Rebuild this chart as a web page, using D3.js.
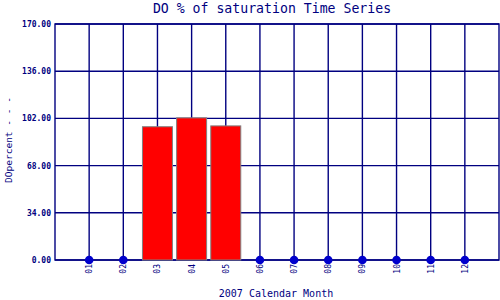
<!DOCTYPE html>
<html>
<head>
<meta charset="utf-8">
<script src="https://cdn.jsdelivr.net/npm/d3@7"></script>
<style>
  body { margin: 0; background: #fff; }
  text { font-family: "DejaVu Sans Mono", monospace; fill: #000080; }
</style>
</head>
<body>
<script>
const navy = '#000080'
const dotBlue = '#0000cc'

const months = ['01', '02', '03', '04', '05', '06', '07', '08', '09', '10', '11', '12']
const values = [null, null, 96.0, 102.4, 96.6, null, null, null, null, null, null, null]
const yTicks = [0, 34, 68, 102, 136, 170]

const width = 500
const height = 300
const plotLeft = 55, plotRight = 499, plotTop = 24, plotBottom = 260

const svg = d3.select('body').append('svg').attr('width', width).attr('height', height)

const x = d3.scaleLinear().domain([0, 13]).range([plotLeft, plotRight])
const y = d3.scaleLinear().domain([0, 170]).range([plotBottom, plotTop])

const grid = svg.append('g').attr('stroke', navy).attr('stroke-width', 1.4)

grid.selectAll('line.h')
    .data(yTicks)
    .enter()
    .append('line')
    .attr('x1', plotLeft).attr('x2', plotRight)
    .attr('y1', d => y(d)).attr('y2', d => y(d))

grid.selectAll('line.v')
    .data(months)
    .enter()
    .append('line')
    .attr('x1', (d, i) => x(i + 1)).attr('x2', (d, i) => x(i + 1))
    .attr('y1', plotTop).attr('y2', plotBottom)

// plot frame
svg.append('rect')
    .attr('x', plotLeft).attr('y', plotTop)
    .attr('width', plotRight - plotLeft).attr('height', plotBottom - plotTop)
    .attr('fill', 'none').attr('stroke', navy).attr('stroke-width', 1.4)

const barWidth = 30
const data = months.map((m, i) => ({ m, i, v: values[i] }))

svg.selectAll('rect.bar')
    .data(data.filter(d => d.v !== null))
    .enter()
    .append('rect')
    .classed('bar', true)
    .attr('x', d => x(d.i + 1) - barWidth / 2)
    .attr('width', barWidth)
    .attr('y', d => y(d.v))
    .attr('height', d => y(0) - y(d.v))
    .attr('fill', '#ff0000')
    .attr('stroke', '#808080')
    .attr('stroke-width', 1)

svg.selectAll('circle.dot')
    .data(data.filter(d => d.v === null))
    .enter()
    .append('circle')
    .attr('cx', d => x(d.i + 1))
    .attr('cy', y(0))
    .attr('r', 4.3)
    .attr('fill', dotBlue)

svg.selectAll('text.ytick')
    .data(yTicks)
    .enter()
    .append('text')
    .attr('x', 51)
    .attr('y', d => y(d) + 3)
    .attr('text-anchor', 'end')
    .attr('font-size', 8)
    .attr('font-weight', 'bold')
    .text(d => d.toFixed(2))

svg.selectAll('text.xtick')
    .data(months)
    .enter()
    .append('text')
    .attr('transform', (d, i) => `translate(${x(i + 1) + 3} 264) rotate(-90)`)
    .attr('text-anchor', 'end')
    .attr('font-size', 8)
    .text(d => d)

svg.append('text')
    .attr('x', 272).attr('y', 13)
    .attr('text-anchor', 'middle')
    .attr('font-size', 13.2)
    .text('DO % of saturation Time Series')

svg.append('text')
    .attr('x', 276).attr('y', 297)
    .attr('text-anchor', 'middle')
    .attr('font-size', 10)
    .text('2007 Calendar Month')

svg.append('text')
    .attr('transform', `translate(12 140) rotate(-90)`)
    .attr('text-anchor', 'middle')
    .attr('font-size', 9.5)
    .text('DOpercent - - -')
</script>
</body>
</html>
